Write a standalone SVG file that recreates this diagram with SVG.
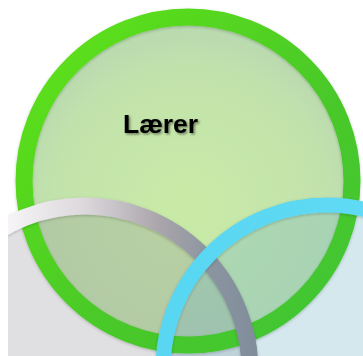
<svg xmlns="http://www.w3.org/2000/svg" width="363" height="356" viewBox="0 0 363 356">
  <defs>
    <clipPath id="crop"><rect x="8" y="0" width="355" height="356"/></clipPath>
    <radialGradient id="gFill" cx="0.5" cy="0.58" r="0.6">
      <stop offset="0" stop-color="#c9eba6"/>
      <stop offset="0.7" stop-color="#c2e2ac"/>
      <stop offset="1" stop-color="#b6d6b2"/>
    </radialGradient>
    <linearGradient id="gRing" x1="0" y1="0" x2="1" y2="1">
      <stop offset="0" stop-color="#60e416"/>
      <stop offset="0.6" stop-color="#49c82a"/>
      <stop offset="1" stop-color="#40c634"/>
    </linearGradient>
    <linearGradient id="grayRing" x1="8" y1="0" x2="260" y2="0" gradientUnits="userSpaceOnUse">
      <stop offset="0.0" stop-color="#f6f4f6"/>
      <stop offset="0.3" stop-color="#dcd8dc"/>
      <stop offset="0.6" stop-color="#aaa5ab"/>
      <stop offset="0.8" stop-color="#8b95a0"/>
      <stop offset="1" stop-color="#7f8c9a"/>
    </linearGradient>
    <linearGradient id="cyanRing" x1="0" y1="0" x2="1" y2="0">
      <stop offset="0" stop-color="#58d6f2"/>
      <stop offset="1" stop-color="#64dcf6"/>
    </linearGradient>
    <filter id="shadow" x="-10%" y="-10%" width="130%" height="140%">
      <feDropShadow dx="1.5" dy="1.5" stdDeviation="1" flood-color="#000" flood-opacity="0.45"/>
    </filter>
    <filter id="ringShadow" x="-10%" y="-10%" width="120%" height="120%">
      <feDropShadow dx="0" dy="1" stdDeviation="1.5" flood-color="#000" flood-opacity="0.22"/>
    </filter>
  </defs>
  <style>
    .lbl { font-family: "Liberation Sans", Arial, sans-serif; font-weight: bold; font-size: 26.5px; fill: #000; }
  </style>
  <rect width="363" height="356" fill="#ffffff"/>
  <g clip-path="url(#crop)">
    <g id="node-laerer">
      <circle cx="188" cy="181" r="164" fill="url(#gFill)"/>
      <text class="lbl" x="123" y="133" filter="url(#shadow)">Lærer</text>
    </g>
    <g id="node-gray">
      <circle cx="85" cy="371" r="165" fill="#8e8e94" fill-opacity="0.27"/>
    </g>
    <g id="node-cyan">
      <circle cx="327" cy="369" r="164" fill="#72b4c8" fill-opacity="0.3"/>
    </g>
    <g id="rings">
      <circle cx="188" cy="181" r="164" fill="none" stroke="url(#gRing)" stroke-width="17" filter="url(#ringShadow)"/>
      <circle cx="85" cy="371" r="165" fill="none" stroke="url(#grayRing)" stroke-width="17" filter="url(#ringShadow)"/>
      <circle cx="327" cy="369" r="164" fill="none" stroke="url(#cyanRing)" stroke-width="15" filter="url(#ringShadow)"/>
    </g>
  </g>
  <g id="connectors"/>
</svg>
